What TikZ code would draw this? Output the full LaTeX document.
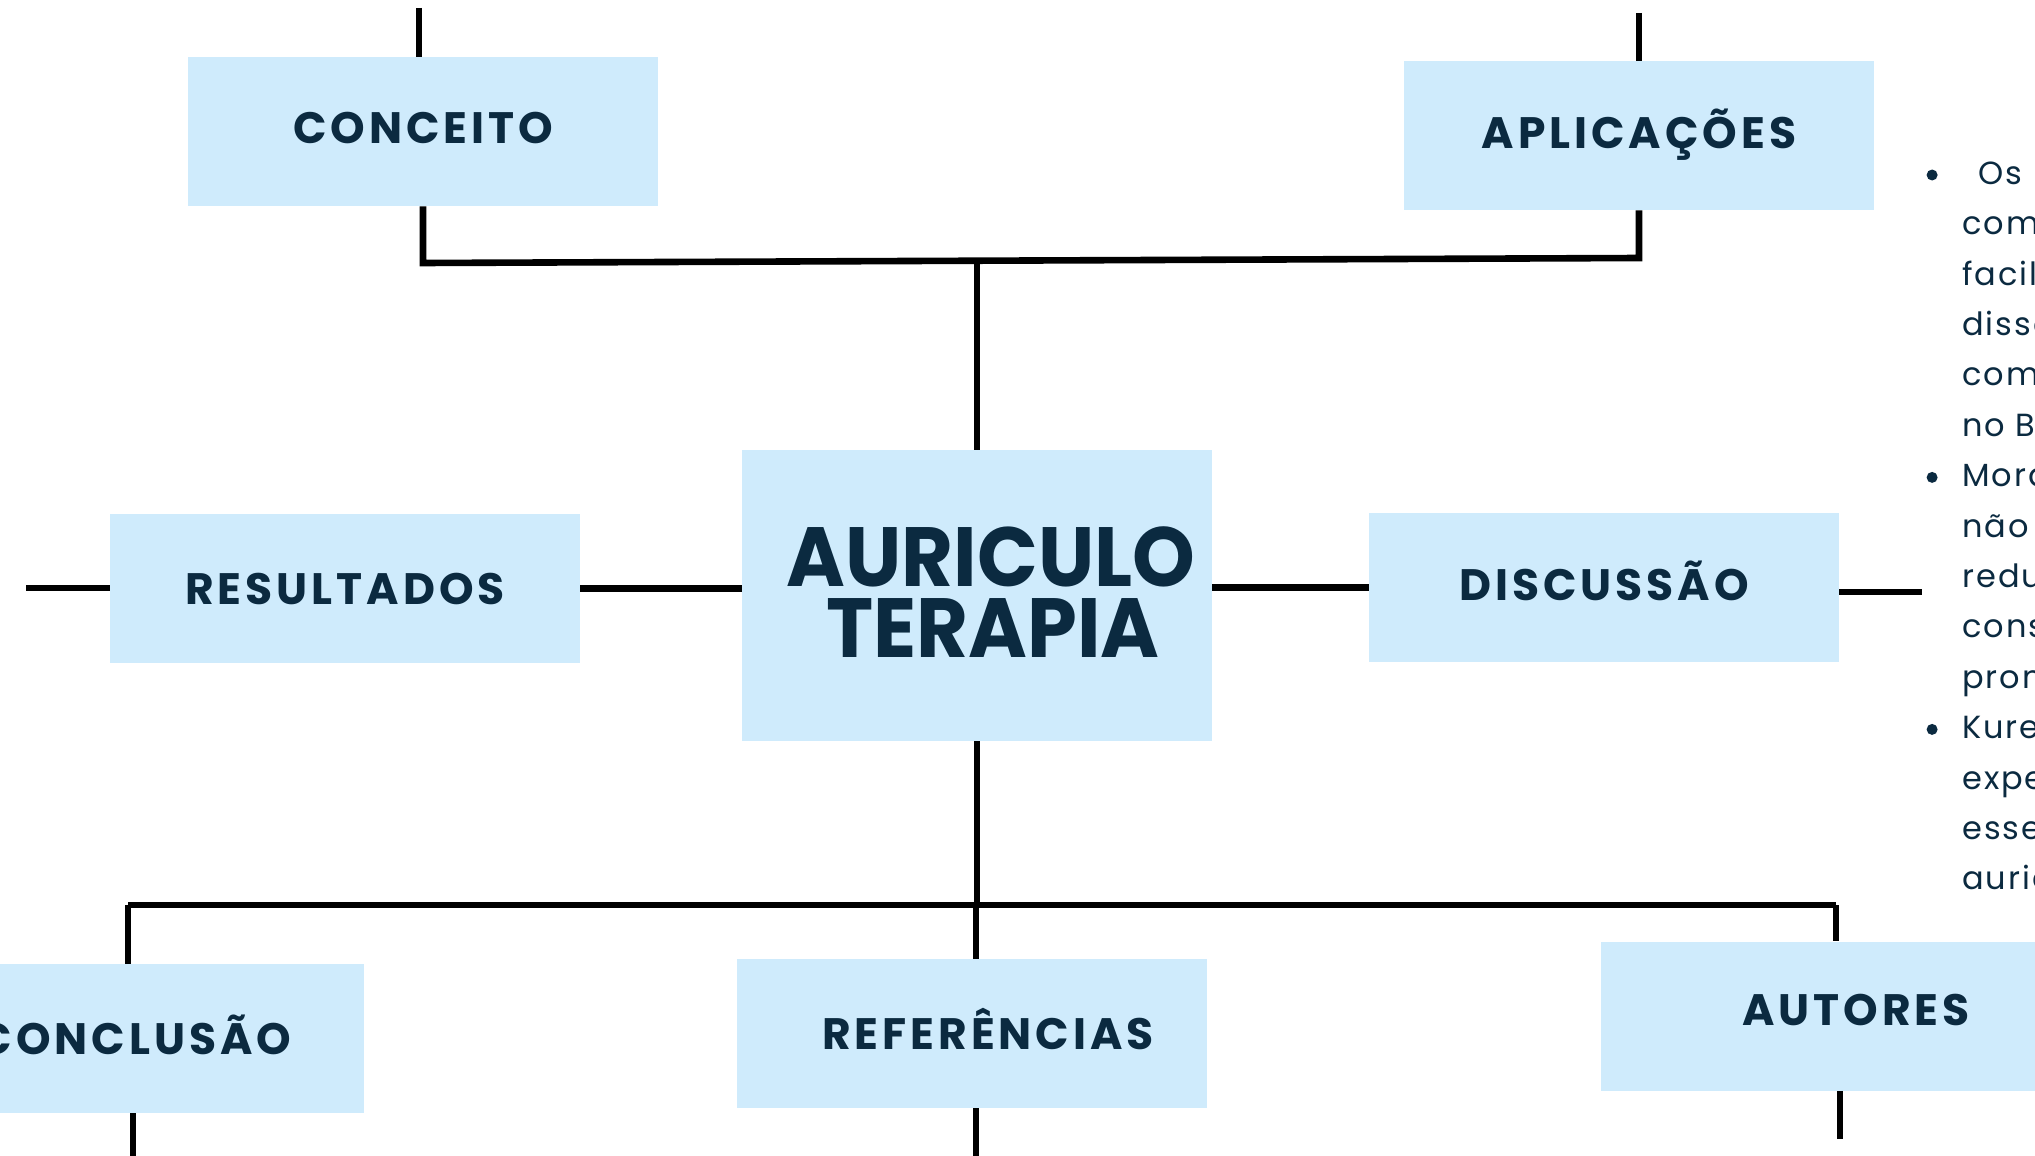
\documentclass[tikz,border=0pt]{standalone}
\usepackage{fontspec}
\setmainfont{Poppins}
\newfontfamily\boxfont[LetterSpace=9]{Poppins}
\newfontfamily\titlefont[FakeStretch=0.95]{Poppins}
\newfontfamily\listfont[LetterSpace=6]{Poppins}
\usetikzlibrary{positioning}
\definecolor{boxblue}{HTML}{CFEBFC}
\definecolor{navy}{HTML}{0B2A40}
\tikzset{
    topic/.style={rectangle, fill=boxblue, minimum width=235pt, minimum height=74.5pt,
        inner sep=0pt, text height=15.5pt, text depth=0pt, text=navy,
        font=\boxfont\bfseries\fontsize{22}{22}\selectfont},
    link/.style={draw=black, line width=3.3pt},
}

\begin{document}
\begin{tikzpicture}[
        x=0.5pt, y=-0.5pt,
        title/.style={rectangle, fill=boxblue, minimum width=235pt, minimum height=145.5pt,
            inner sep=0pt, align=center, text=navy, font=\titlefont\bfseries\fontsize{42}{35.5}\selectfont},
        item/.style={anchor=west, inner sep=0pt, text height=17pt, text depth=7.8pt,
            node distance=0pt, text=navy, font=\listfont\fontsize{16}{25}\selectfont},
        dot/.style={circle, fill=navy, inner sep=0pt, minimum size=5.5pt},
    ]
    \useasboundingbox (0,0) rectangle (2035,1156);
    \clip (0,0) rectangle (2035,1156);

    % boxes
    \node[title]      (centro)                         at (977,595.5)  {\hspace*{14pt}\raisebox{3pt}{AURICULO}\\\hspace*{16pt}\raisebox{3pt}{TERAPIA}};
    \node[topic]      (conceito)                       at (423,131.5)  {\raisebox{1.5pt}{CONCEITO}};
    \node[topic]      (aplicacoes)                     at (1639,135.5) {\raisebox{1.5pt}{APLICAÇÕES}};
    \node[topic]      (resultados)                     at (345,588.5)  {RESULTADOS};
    \node[topic]      (discussao)                      at (1604,587.5) {\raisebox{1.5pt}{DISCUSSÃO}};
    \node[topic]      (conclusao)                      at (129,1038.5) {\hspace*{6pt}CONCLUSÃO};
    \node[topic]      (referencias)                    at (972,1033.5) {\hspace*{16pt}REFERÊNCIAS};
    \node[topic]      (autores)                        at (1836,1016)  {\hspace*{20pt}\raisebox{3pt}{AUTORES}};

    % loose ends
    \coordinate (conceitoT)   at (419,8);
    \coordinate (aplicacoesT) at (1639,13);
    \coordinate (topbusL)     at (423,263);
    \coordinate (topbusR)     at (1639,258);
    \coordinate (resultadosW) at (26,588);
    \coordinate (discussaoE)  at (1922,592);
    \coordinate (botbusL)     at (128,905);
    \coordinate (botbusR)     at (1836,905);
    \coordinate (conclusaoB)  at (133,1156);
    \coordinate (referenciasB) at (976,1156);
    \coordinate (autoresB)    at (1840,1139);

    % top
    \draw[link] (conceitoT) -- (conceito.north -| conceitoT);
    \draw[link] (aplicacoesT) -- (aplicacoes.north);
    \draw[link] (conceito.south) -- (topbusL) -- (topbusR) -- (aplicacoes.south);
    \draw[link] (centro.north) -- (977,261);

    % middle
    \draw[link] (resultadosW) -- (resultados.west |- resultadosW);
    \draw[link] (resultados.east) -- (resultados.east -| centro.west);
    \draw[link] (discussao.west -| centro.east) -- (discussao.west);
    \draw[link] (discussao.east |- discussaoE) -- (discussaoE);

    % bottom
    \draw[link] (centro.south) -- (centro.south |- botbusL);
    \draw[link] (botbusL) -- (botbusR);
    \draw[link] (botbusL) -- (botbusL |- conclusao.north);
    \draw[link] (referencias.north -| referenciasB) -- (referenciasB |- botbusL);
    \draw[link] (botbusR) -- (autores.north);
    \draw[link] (conclusao.south -| conclusaoB) -- (conclusaoB);
    \draw[link] (referencias.south -| referenciasB) -- (referenciasB);
    \draw[link] (autores.south -| autoresB) -- (autoresB);

    % text column
    \node[item]      (t1)  at (1962,175)  {\hspace*{8pt}Os};
    \node[item]      (t2)  [below=of t1.south west, anchor=north west]  {com};
    \node[item]      (t3)  [below=of t2.south west, anchor=north west]  {facil};
    \node[item]      (t4)  [below=of t3.south west, anchor=north west]  {disso};
    \node[item]      (t5)  [below=of t4.south west, anchor=north west]  {comp};
    \node[item]      (t6)  [below=of t5.south west, anchor=north west]  {no B};
    \node[item]      (t7)  [below=of t6.south west, anchor=north west]  {Mora};
    \node[item]      (t8)  [below=of t7.south west, anchor=north west]  {não};
    \node[item]      (t9)  [below=of t8.south west, anchor=north west]  {redu};
    \node[item]      (t10) [below=of t9.south west, anchor=north west]  {cons};
    \node[item]      (t11) [below=of t10.south west, anchor=north west] {prom};
    \node[item]      (t12) [below=of t11.south west, anchor=north west] {Kure};
    \node[item]      (t13) [below=of t12.south west, anchor=north west] {expe};
    \node[item]      (t14) [below=of t13.south west, anchor=north west] {essen};
    \node[item]      (t15) [below=of t14.south west, anchor=north west] {auric};

    \node[dot]       (b1)  [left=12pt of t1.west]  {};
    \node[dot]       (b2)  [left=12pt of t7.west]  {};
    \node[dot]       (b3)  [left=12pt of t12.west] {};
\end{tikzpicture}
\end{document}
